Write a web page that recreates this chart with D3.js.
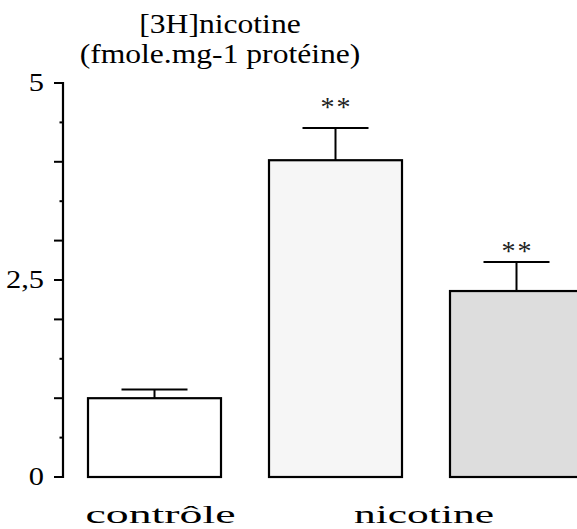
<!DOCTYPE html>
<html>
<head>
<meta charset="utf-8">
<script src="https://cdn.jsdelivr.net/npm/d3@7"></script>
<style>
  html, body { margin:0; padding:0; background:#fff; }
  svg { display:block; font-family:"Times New Roman", Times, "Liberation Serif", serif; }
</style>
</head>
<body>
<svg id="chart" width="577" height="529"></svg>
<script>
// data
const groups   = ['contrôle', 'nicotine', 'nicotine'];
const means    = [1.0, 4.02, 2.36];
const sems     = [0.11, 0.41, 0.37];
const signif   = ['', '**', '**'];
const fills    = ['#ffffff', '#f6f6f6', '#dddddd'];
const xLabels  = ['contrôle', 'nicotine'];
const yMajor   = [0, 2.5, 5];
const yLabels  = ['0', '2,5', '5'];
const titleLines = ['[3H]nicotine', '(fmole.mg-1 protéine)'];

const svg = d3.select('#chart');

// the original figure is stretched sideways, so text gets widened too
function stretch(sel, sx) {
  sel.each(function() {
    const w = this.getComputedTextLength();
    d3.select(this).attr('textLength', w * sx).attr('lengthAdjust', 'spacingAndGlyphs');
  });
}

// scales
const y = d3.scaleLinear().domain([0, 5]).range([477, 83]);
const x = d3.scaleBand().domain(d3.range(means.length))
  .range([88, 583]).paddingInner(48/181).paddingOuter(0);

// y axis: long ticks at whole numbers + labelled ones, short at halves
const axisX = 63;
svg.append('line')
  .attr('x1', axisX).attr('x2', axisX)
  .attr('y1', y(5) - 1).attr('y2', y(0) + 1)
  .attr('stroke', '#000').attr('stroke-width', 2.2);

const ticks = d3.range(0, 5.01, 0.5);
svg.selectAll('.tick').data(ticks).join('line')
  .attr('x1', d => (Number.isInteger(d) || yMajor.includes(d)) ? axisX - 9 : axisX - 3.5)
  .attr('x2', axisX)
  .attr('y1', d => y(d)).attr('y2', d => y(d))
  .attr('stroke', '#000').attr('stroke-width', 2);

svg.selectAll('.ylab').data(yMajor).join('text')
  .attr('x', 44).attr('y', d => y(d) - 1)
  .attr('dy', '0.33em')
  .attr('text-anchor', 'end')
  .attr('font-size', 26)
  .text((d, i) => yLabels[i])
  .call(stretch, 1.17);

// bars
svg.selectAll('.bar').data(means).join('rect')
  .attr('x', (d, i) => x(i))
  .attr('width', x.bandwidth())
  .attr('y', d => y(d))
  .attr('height', d => y(0) - y(d))
  .attr('fill', (d, i) => fills[i])
  .attr('stroke', '#000').attr('stroke-width', 2.2);

// error bars (upper only)
const capW = 66;
const eb = svg.selectAll('.err').data(means).join('g');
eb.append('line')
  .attr('x1', (d, i) => x(i) + x.bandwidth()/2)
  .attr('x2', (d, i) => x(i) + x.bandwidth()/2)
  .attr('y1', d => y(d))
  .attr('y2', (d, i) => y(d + sems[i]))
  .attr('stroke', '#000').attr('stroke-width', 2);
eb.append('line')
  .attr('x1', (d, i) => x(i) + x.bandwidth()/2 - capW/2)
  .attr('x2', (d, i) => x(i) + x.bandwidth()/2 + capW/2)
  .attr('y1', (d, i) => y(d + sems[i]))
  .attr('y2', (d, i) => y(d + sems[i]))
  .attr('stroke', '#000').attr('stroke-width', 2);

// significance stars
const starGap = [0, 20, 10];
svg.selectAll('.star').data(means).join('text')
  .attr('x', (d, i) => x(i) + x.bandwidth()/2 + 1)
  .attr('y', (d, i) => y(d + sems[i]) - starGap[i] + 8)
  .attr('text-anchor', 'middle')
  .attr('font-size', 28)
  .attr('fill', '#222')
  .attr('letter-spacing', 2)
  .text((d, i) => signif[i]);

// group labels under the bars
const labelX = [x(0) + x.bandwidth()/2 + 6, (x(1) + x(2) + x.bandwidth())/2 - 2];
svg.selectAll('.xlab').data(xLabels).join('text')
  .attr('x', (d, i) => labelX[i])
  .attr('y', 523)
  .attr('text-anchor', 'middle')
  .attr('font-size', 26)
  .attr('textLength', (d, i) => i === 0 ? 150 : 140)
  .attr('lengthAdjust', 'spacingAndGlyphs')
  .text(d => d);

// title
svg.selectAll('.title').data(titleLines).join('text')
  .attr('x', 220)
  .attr('y', (d, i) => 33 + i * 30)
  .attr('text-anchor', 'middle')
  .attr('font-size', 27)
  .text(d => d)
  .call(stretch, 1.17);
</script>
</body>
</html>
